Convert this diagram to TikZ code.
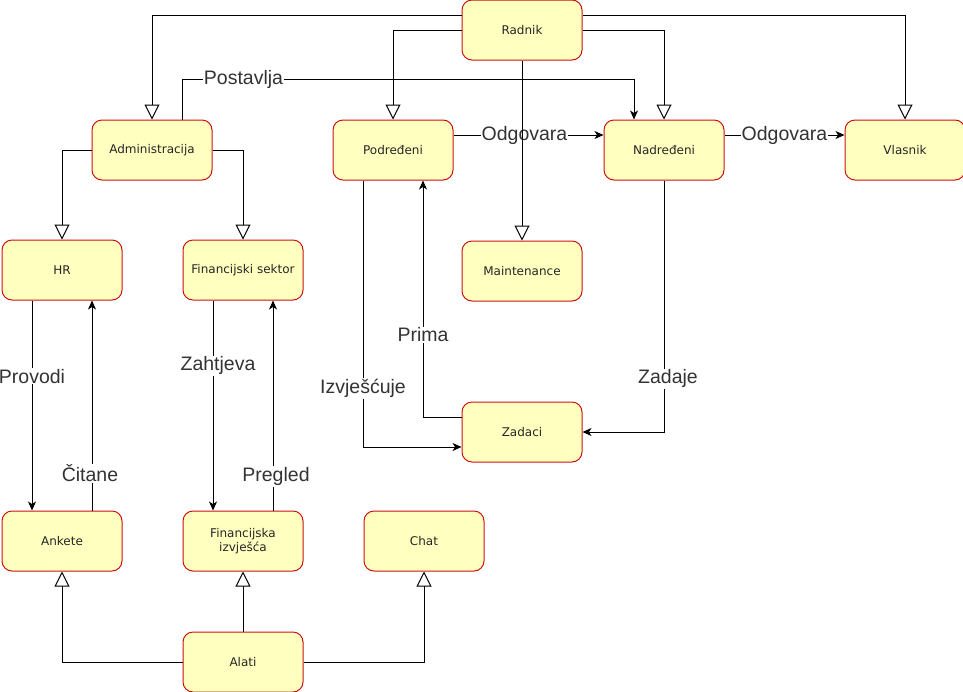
\documentclass[tikz,border=0pt]{standalone}
\usepackage{fontspec}
\setmainfont{DejaVu Sans}
\newfontfamily\lblfont{Liberation Sans}
\usetikzlibrary{positioning,arrows.meta}
\definecolor{boxfill}{HTML}{FFFFC0}
\definecolor{boxline}{HTML}{CC1111}
\definecolor{lbltext}{HTML}{333333}
\begin{document}
\begin{tikzpicture}[x=1pt, y=-1pt, line width=1pt,
    box/.style = {draw=boxline, fill=boxfill, rounded corners=10pt, minimum width=120pt, minimum height=60pt, inner sep=0pt, align=center, text=black!85, font=\fontsize{12}{14.5}\selectfont},
    lbl/.style = {fill=white, inner sep=1pt, text=lbltext, font=\lblfont\fontsize{19.5}{22}\selectfont},
    inh/.style = {-{Triangle[open, length=15pt, width=15pt, fill=white]}},
    rel/.style = {-{Stealth[length=9pt, width=8pt, inset=2.5pt]}}]
    \useasboundingbox (0,0) rectangle (963,691);
    \node[box] (radnik) at (522,30) {Radnik};
    \node[box] (adm) at (152,150) {Administracija};
    \node[box] (podr) [right=120pt of adm] {Podređeni};
    \node[box] (nadr) [right=150pt of podr] {Nadređeni};
    \node[box] (vlasnik) [right=120pt of nadr] {Vlasnik};
    \node[box] (hr) at (62,270) {HR};
    \node[box] (finsek) [right=60pt of hr] {Financijski sektor};
    \node[box] (maint) [below=180pt of radnik] {Maintenance};
    \node[box] (zadaci) [below=100pt of maint] {Zadaci};
    \node[box] (ankete) [below=210pt of hr] {Ankete};
    \node[box] (finizv) [below=210pt of finsek] {Financijska\\izvješća};
    \node[box] (chat) [right=60pt of finizv] {Chat};
    \node[box] (alati) [below=60pt of finizv] {Alati};
    % Radnik
    \draw[inh] ([yshift=15pt]radnik.west) -| (adm.north);
    \draw[inh] ([yshift=15pt]radnik.east) -| (vlasnik.north);
    \draw[inh] (radnik.west) -| (podr.north);
    \draw[inh] (radnik.east) -| (nadr.north);
    % Administracija
    \draw[inh] (adm.west) -| (hr.north);
    \draw[inh] (adm.east) -| (finsek.north);
    \draw[rel] ([xshift=30pt]adm.north) -- ++(0,40pt) -| node[lbl, pos=0.068] {Postavlja} ([xshift=-30pt]nadr.north);
    % odgovornost
    \draw[rel] ([yshift=15pt]podr.east) -- node[lbl, xshift=-4pt] {Odgovara} ([yshift=15pt]nadr.west);
    \draw[rel] ([yshift=15pt]nadr.east) -- node[lbl] {Odgovara} ([yshift=15pt]vlasnik.west);
    \draw[inh] (radnik) -- (maint);
    % HR i financije
    \draw[rel] ([xshift=-30pt]hr.south) -- node[lbl, pos=0.36] {Provodi} ([xshift=-30pt]ankete.north);
    \draw[rel] ([xshift=30pt]ankete.north) -- node[lbl, pos=0.176, xshift=-2pt] {Čitane} ([xshift=30pt]hr.south);
    \draw[rel] ([xshift=-30pt]finsek.south) -- node[lbl, pos=0.31, xshift=5pt] {Zahtjeva} ([xshift=-30pt]finizv.north);
    \draw[rel] ([xshift=30pt]finizv.north) -- node[lbl, pos=0.162, xshift=3pt] {Pregled} ([xshift=30pt]finsek.south);
    % Zadaci
    \draw[rel] ([xshift=-30pt]podr.south) |- node[lbl, pos=0.39] {Izvješćuje} ([yshift=-15pt]zadaci.west);
    \draw[rel] ([yshift=15pt]zadaci.west) -| node[lbl, pos=0.674] {Prima} ([xshift=30pt]podr.south);
    \draw[rel] (nadr.south) |- node[lbl, pos=0.394, xshift=4pt] {Zadaje} (zadaci.east);
    % Alati
    \draw[inh] (alati.west) -| (ankete.south);
    \draw[inh] (alati) -- (finizv);
    \draw[inh] (alati.east) -| (chat.south);
\end{tikzpicture}
\end{document}
